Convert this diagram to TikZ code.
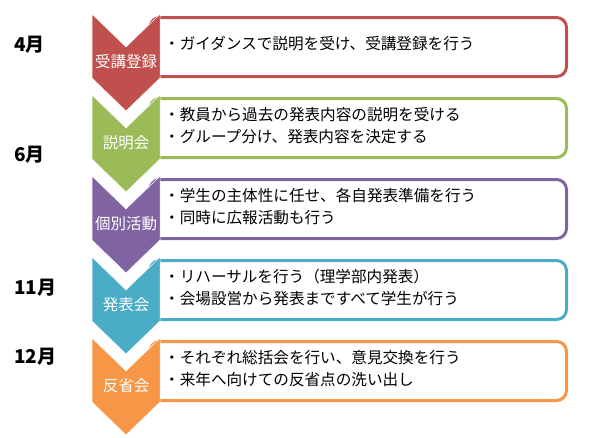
\documentclass[tikz,border=0pt]{standalone}
\usepackage{fontspec}
\setmainfont{Noto Sans CJK JP}
\usepackage{xcolor}
\definecolor{phasered}{HTML}{C0504D}
\definecolor{phasegreen}{HTML}{9BBB59}
\definecolor{phasepurple}{HTML}{8064A2}
\definecolor{phaseteal}{HTML}{4BACC6}
\definecolor{phaseorange}{HTML}{F79646}

\tikzset{
  chevron/.style={fill=#1, draw=white, line width=0.5pt, line join=miter},
  itembox/.style={draw=#1, line width=3pt, rounded corners=10pt, fill=white},
  phaselabel/.style={text=white, inner sep=0pt, font=\fontsize{15.5}{18}\selectfont},
  itemtext/.style={anchor=west, inner sep=0pt, font=\fontsize{15.6}{18}\selectfont},
  monthlabel/.style={anchor=west, inner sep=0pt, font=\fontsize{19}{22}\selectfont\bfseries}
}

\begin{document}
\begin{tikzpicture}[x=1pt, y=-1pt]
    \useasboundingbox (0,0) rectangle (596,437);

    % phases: top / colour / key / label
    \foreach \t/\col/\key/\phase in {
        14/phasered/reg/受講登録,
        95/phasegreen/brief/説明会,
        176/phasepurple/prep/個別活動,
        257/phaseteal/talk/発表会,
        338/phaseorange/review/反省会
    }{
        \draw[itembox=\col] (150,\t+3.5) rectangle (566.5,\t+62.5);
        \fill[chevron=\col] (92,\t) -- (126,\t+33) -- (160,\t) -- (160,\t+64)
            -- (126,\t+97) -- (92,\t+64) -- cycle;
        \node[phaselabel] (\key) at (126,\t+48) {\phase};
    }

    % items in the boxes
    \node[itemtext] (reg-a) at (164,44) {・ガイダンスで説明を受け、受講登録を行う};
    \foreach \y/\key/\itema/\itemb in {
        95/brief/教員から過去の発表内容の説明を受ける/グループ分け、発表内容を決定する,
        176/prep/学生の主体性に任せ、各自発表準備を行う/同時に広報活動も行う,
        257/talk/リハーサルを行う（理学部内発表）/会場設営から発表まですべて学生が行う,
        338/review/それぞれ総括会を行い、意見交換を行う/来年へ向けての反省点の洗い出し
    }{
        \node[itemtext] (\key-a) at (164,\y+20) {・\itema};
        \node[itemtext] (\key-b) at (164,\y+42) {・\itemb};
    }

    \foreach \y/\key/\month in {45/apr/4月, 155/jun/6月, 288/nov/11月, 357/dec/12月}{
        \node[monthlabel] (\key) at (14,\y) {\month};
    }
\end{tikzpicture}
\end{document}
